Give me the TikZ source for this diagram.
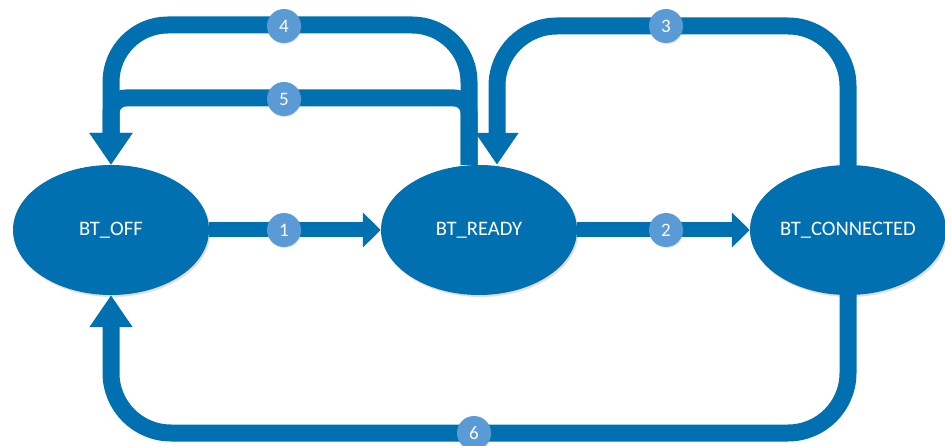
\documentclass[tikz,border=0pt]{standalone}
\usepackage{fontspec}
\setmainfont{Carlito}
\usetikzlibrary{shapes.geometric,arrows.meta,shadows}
\definecolor{btblue}{RGB}{0,112,176}
\definecolor{btbadge}{RGB}{91,155,213}

\begin{document}
\begin{tikzpicture}[x=1pt,y=-1pt,
  state/.style={ellipse,fill=btblue,text=white,inner sep=0pt,
    minimum width=196pt,minimum height=130pt,font=\fontsize{20.6}{24}\selectfont,
    drop shadow={shadow xshift=1.5pt,shadow yshift=-2pt,opacity=0.25}},
  badge/.style={circle,fill=btbadge,text=white,inner sep=0pt,minimum size=34pt,
    font=\fontsize{19}{21}\selectfont,
    drop shadow={shadow xshift=0.8pt,shadow yshift=-1.2pt,opacity=0.2}},
  flow/.style={draw=btblue,line width=17pt},
  straight/.style={draw=btblue,line width=15pt,-{Triangle[length=18pt,width=34pt]}},
  longtip/.style={-{Triangle[length=32pt,width=41pt]}}]
  % Screen convention: y grows downward, 1pt = 1px of the 945x446 canvas.
  \useasboundingbox (0,0) rectangle (945,446);
  % States
  \node[state] (off)   at (111,230) {BT\_OFF};
  \node[state] (ready) at (479,230) {BT\_READY};
  \node[state] (conn)  at (848,230) {BT\_CONNECTED};
  % Where the loops leave and enter BT_READY, and the heights of their lanes
  \coordinate (readyout) at ([xshift=-10pt]ready.north);
  \coordinate (readyin)  at ([xshift=18pt]ready.north);
  \coordinate (lane3) at (0,26);
  \coordinate (lane4) at (0,25);
  \coordinate (lane5) at (0,98);
  \coordinate (lane6) at (0,433);
  % Straight transitions 1 and 2
  \draw[straight] (off.east) -- (ready.west);
  \draw[straight] (ready.east) -- (conn.west);
  % Loops over the top: 4 and 5 back to BT_OFF, 3 back to BT_READY
  \draw[flow,longtip,rounded corners=57pt] (readyout) |- (lane4 -| off.north) -- (off.north);
  \draw[flow,longtip,rounded corners=15pt] (readyout) |- (lane5 -| off.north) -- (off.north);
  \draw[flow,longtip,rounded corners=60pt] (conn.north) |- (lane3 -| readyin) -- (readyin);
  % Loop under the bottom: 6 back to BT_OFF
  \draw[flow,longtip,rounded corners=60pt] (conn.south) |- (lane6 -| off.south) -- (off.south);
  % Transition numbers
  \node[badge] (b1) at (284,230) {1};
  \node[badge] (b2) at (666,230) {2};
  \node[badge] (b3) at (666,26)  {3};
  \node[badge] (b4) at (284,26)  {4};
  \node[badge] (b5) at (284,99)  {5};
  \node[badge] (b6) at (474,433) {6};
\end{tikzpicture}
\end{document}
